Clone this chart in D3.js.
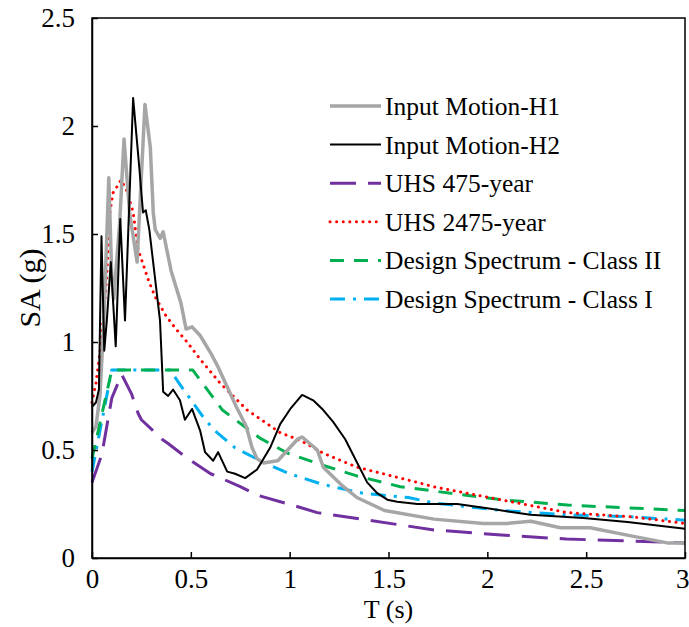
<!DOCTYPE html>
<html><head><meta charset="utf-8">
<script src="https://cdn.jsdelivr.net/npm/d3@7"></script>
<style>body{margin:0;background:#fff}svg{display:block} svg text{font-family:"Liberation Serif","Times New Roman","DejaVu Serif",serif !important;}</style>
</head><body><div id="chart"></div>
<script>
const xTicks = [0, 0.5, 1, 1.5, 2, 2.5, 3];
const yTicks = [0, 0.5, 1, 1.5, 2, 2.5];
const xTickLabels = ["0", "0.5", "1", "1.5", "2", "2.5", "3"];
const yTickLabels = ["0", "0.5", "1", "1.5", "2", "2.5"];
const seriesNames = ["Input Motion-H1", "Input Motion-H2", "UHS 475-year", "UHS 2475-year", "Design Spectrum - Class II", "Design Spectrum - Class I"];

const h1T = [0, 0.02, 0.04, 0.06, 0.085, 0.1, 0.11, 0.14, 0.162, 0.19, 0.228, 0.268, 0.295, 0.31, 0.32, 0.345, 0.36, 0.40, 0.45, 0.476, 0.506, 0.547, 0.6, 0.64, 0.665, 0.70, 0.73, 0.78, 0.81, 0.835, 0.865, 0.94, 0.99, 1.04, 1.063, 1.14, 1.17, 1.26, 1.34, 1.48, 1.73, 1.98, 2.10, 2.22, 2.37, 2.52, 2.74, 2.91, 3.0];
const h1SA = [0.58, 0.61, 0.75, 1.1, 1.76, 1.3, 1.2, 1.55, 1.94, 1.6, 1.37, 2.1, 1.9, 1.6, 1.52, 1.48, 1.51, 1.33, 1.18, 1.06, 1.07, 1.03, 0.95, 0.88, 0.83, 0.76, 0.70, 0.61, 0.51, 0.46, 0.44, 0.45, 0.50, 0.55, 0.56, 0.50, 0.42, 0.34, 0.28, 0.22, 0.18, 0.16, 0.16, 0.17, 0.14, 0.14, 0.10, 0.07, 0.07];

const h2T = [0, 0.02, 0.035, 0.048, 0.062, 0.075, 0.095, 0.12, 0.143, 0.167, 0.208, 0.24, 0.258, 0.272, 0.29, 0.344, 0.36, 0.385, 0.41, 0.445, 0.47, 0.506, 0.547, 0.572, 0.613, 0.638, 0.684, 0.724, 0.775, 0.835, 0.901, 0.952, 1.003, 1.063, 1.119, 1.17, 1.22, 1.281, 1.342, 1.392, 1.443, 1.494, 1.544, 1.646, 1.848, 2.0, 2.218, 2.486, 2.709, 3.0];
const h2SA = [0.70, 0.72, 0.78, 1.49, 0.96, 1.1, 1.37, 0.98, 1.57, 1.10, 2.13, 1.8, 1.60, 1.61, 1.52, 1.10, 0.77, 0.75, 0.78, 0.73, 0.64, 0.69, 0.59, 0.49, 0.45, 0.49, 0.40, 0.39, 0.37, 0.41, 0.51, 0.62, 0.69, 0.755, 0.73, 0.685, 0.63, 0.55, 0.44, 0.35, 0.30, 0.27, 0.26, 0.25, 0.25, 0.23, 0.20, 0.185, 0.167, 0.135];

const uhs475T = [0, 0.05, 0.1, 0.15, 0.2, 0.233, 0.25, 0.32, 0.354, 0.385, 0.47, 0.6, 0.64, 0.75, 0.84, 1.05, 1.14, 1.39, 1.73, 2.07, 2.4, 3.0];
const uhs475SA = [0.35, 0.48, 0.74, 0.85, 0.76, 0.67, 0.64, 0.58, 0.55, 0.53, 0.47, 0.39, 0.375, 0.33, 0.29, 0.235, 0.21, 0.176, 0.13, 0.106, 0.088, 0.07];

const uhs2475T = [0, 0.02, 0.04, 0.056, 0.071, 0.081, 0.091, 0.106, 0.127, 0.147, 0.177, 0.208, 0.233, 0.284, 0.319, 0.375, 0.425, 0.481, 0.547, 0.648, 0.785, 0.952, 1.053, 1.17, 1.342, 1.646, 1.727, 2.066, 2.405, 2.739, 3.0];
const uhs2475SA = [0.72, 0.81, 0.95, 1.10, 1.25, 1.41, 1.60, 1.69, 1.72, 1.75, 1.70, 1.60, 1.43, 1.29, 1.21, 1.12, 1.06, 1.0, 0.92, 0.81, 0.685, 0.58, 0.545, 0.485, 0.42, 0.35, 0.33, 0.27, 0.21, 0.19, 0.16];

const class2T = [0, 0.1, 0.51, 0.66, 0.85, 0.99, 1.07, 1.2, 1.34, 1.56, 2.07, 2.405, 3.0];
const class2SA = [0.46, 0.87, 0.87, 0.685, 0.555, 0.485, 0.46, 0.42, 0.38, 0.33, 0.27, 0.245, 0.22];

const class1T = [0, 0.1, 0.395, 0.455, 0.51, 0.572, 0.633, 0.724, 0.81, 0.9, 1.0, 1.17, 1.37, 1.6, 1.73, 2.07, 2.4, 2.74, 3.0];
const class1SA = [0.40, 0.87, 0.87, 0.79, 0.72, 0.64, 0.58, 0.51, 0.47, 0.43, 0.39, 0.34, 0.30, 0.28, 0.255, 0.22, 0.20, 0.19, 0.175];

const W = 689, H = 627;
const m = {left: 92, right: 4, top: 18, bottom: 69};
const svg = d3.select("#chart").append("svg").attr("width", W).attr("height", H);
const x = d3.scaleLinear().domain([0, 3]).range([m.left, W - m.right]);
const y = d3.scaleLinear().domain([0, 2.5]).range([H - m.bottom, m.top]);
const font = "Liberation Serif, Times New Roman, serif";

const styles = [
  {color: "#a6a6a6", width: 3.5, dash: null, cap: "butt"},
  {color: "#000000", width: 2, dash: null, cap: "butt"},
  {color: "#7030a0", width: 3, dash: "26,12", cap: "butt"},
  {color: "#ff0000", width: 3, dash: "0.1,6.5", cap: "round"},
  {color: "#00b050", width: 3, dash: "14,10", cap: "butt"},
  {color: "#00b0f0", width: 3, dash: "15,8,3,8", cap: "butt"}
];
const series = [
  h1T.map((t, i) => [t, h1SA[i]]),
  h2T.map((t, i) => [t, h2SA[i]]),
  uhs475T.map((t, i) => [t, uhs475SA[i]]),
  uhs2475T.map((t, i) => [t, uhs2475SA[i]]),
  class2T.map((t, i) => [t, class2SA[i]]),
  class1T.map((t, i) => [t, class1SA[i]])
];
const line = d3.line().x(d => x(d[0])).y(d => y(d[1]));
const order = [5, 4, 3, 2, 0, 1];
order.forEach(i => {
  const s = styles[i];
  svg.append("path").datum(series[i]).attr("d", line)
    .attr("fill", "none").attr("stroke", s.color).attr("stroke-width", s.width)
    .attr("stroke-dasharray", s.dash).attr("stroke-linecap", s.cap).attr("stroke-linejoin", "round");
});

svg.append("rect").attr("x", x(0)).attr("y", y(2.5)).attr("width", x(3) - x(0)).attr("height", y(0) - y(2.5))
  .attr("fill", "none").attr("stroke", "#000").attr("stroke-width", 1.5);

const xAxis = svg.append("g").attr("transform", `translate(0,${y(0)})`)
  .call(d3.axisBottom(x).tickValues(xTicks).tickFormat((d, i) => xTickLabels[i]).tickSizeInner(-6).tickSizeOuter(0).tickPadding(11));
const yAxis = svg.append("g").attr("transform", `translate(${x(0)},0)`)
  .call(d3.axisLeft(y).tickValues(yTicks).tickFormat((d, i) => yTickLabels[i]).tickSizeInner(-6).tickSizeOuter(0).tickPadding(17));
[xAxis, yAxis].forEach(a => {
  a.attr("font-family", font);
  a.select(".domain").attr("stroke", "#000").attr("stroke-width", 1.5);
  a.selectAll(".tick line").attr("stroke", "#000").attr("stroke-width", 1.5);
  a.selectAll("text").style("font-family", font).attr("font-size", 27).attr("fill", "#000");
});
xAxis.selectAll("text").attr("dy", "0.71em");
xAxis.selectAll(".tick").filter(d => d === 3).select("text").attr("text-anchor", "end").attr("x", 4);

svg.append("text").attr("x", (x(0) + x(3)) / 2).attr("y", 618).attr("text-anchor", "middle")
  .style("font-family", font).attr("font-size", 26).text("T (s)");
svg.append("text").attr("transform", `translate(40,${(y(0) + y(2.5)) / 2}) rotate(-90)`).attr("text-anchor", "middle")
  .style("font-family", font).attr("font-size", 30).text("SA (g)");

const legY0 = 106, legDy = 38.6;
seriesNames.forEach((name, i) => {
  const s = styles[i];
  const ly = legY0 + i * legDy;
  svg.append("line").attr("x1", 330).attr("x2", 381).attr("y1", ly).attr("y2", ly)
    .attr("stroke", s.color).attr("stroke-width", s.width)
    .attr("stroke-dasharray", s.dash).attr("stroke-linecap", s.cap);
  svg.append("text").attr("x", 385).attr("y", ly).attr("dy", "0.35em")
    .style("font-family", font).attr("font-size", 25.5).text(name);
});
</script></body></html>
